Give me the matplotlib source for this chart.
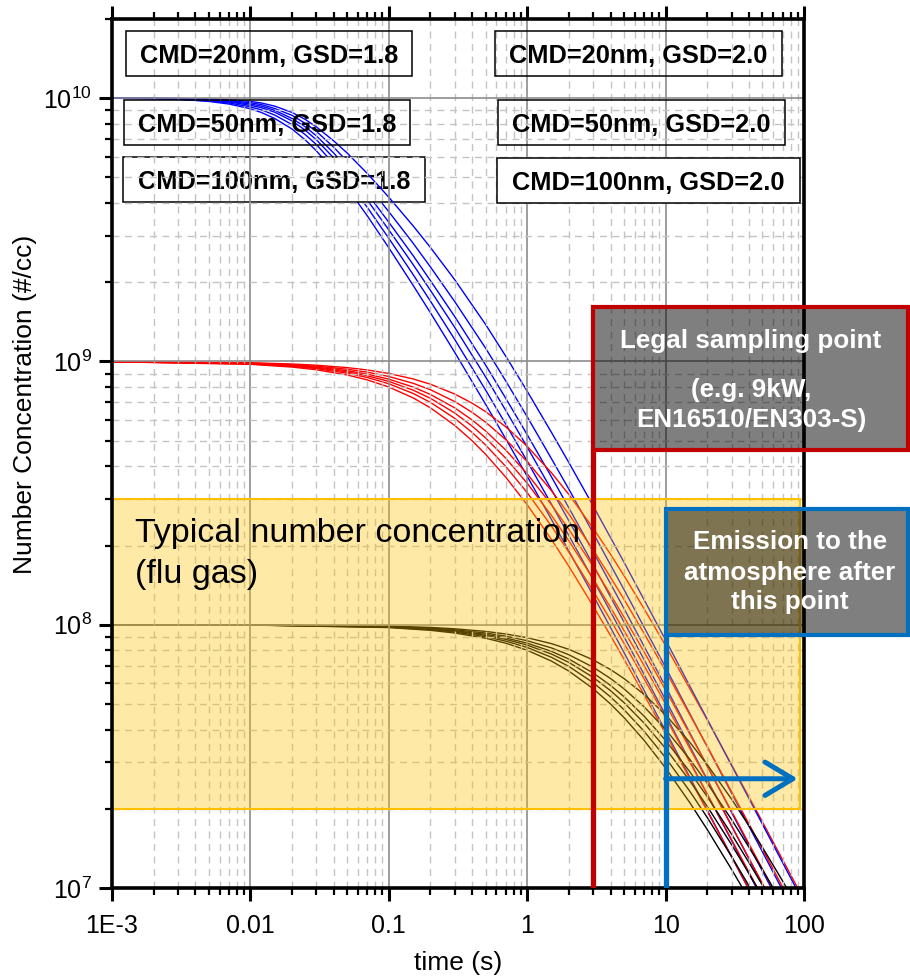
import numpy as np
import matplotlib
matplotlib.use('Agg')
import matplotlib.pyplot as plt
from matplotlib.patches import Rectangle
from matplotlib.ticker import LogLocator, NullFormatter

# ---- data ----
# 1e10 start (blue), given as log10 of the concentration
t_blue = [0.001, 0.002, 0.003, 0.005, 0.007, 0.01, 0.012, 0.015, 0.02, 0.025, 0.03, 0.04, 0.05, 0.07,
          0.1, 0.15, 0.2, 0.3, 0.5, 0.7, 1, 1.5, 2, 3, 5, 10, 20, 50, 100]
blue_log10_n = [
    [10.000, 9.998, 9.996, 9.988, 9.978, 9.960, 9.946, 9.923, 9.883, 9.841, 9.800, 9.725, 9.660, 9.553,
     9.432, 9.289, 9.185, 9.034, 8.838, 8.706, 8.564, 8.399, 8.280, 8.111, 7.895, 7.596, 7.295, 6.897, 6.596],
    [10.000, 9.999, 9.996, 9.990, 9.982, 9.967, 9.956, 9.936, 9.900, 9.861, 9.824, 9.751, 9.688, 9.585,
     9.468, 9.330, 9.229, 9.083, 8.892, 8.762, 8.621, 8.457, 8.339, 8.171, 7.955, 7.657, 7.356, 6.958, 6.657],
    [10.000, 9.999, 9.997, 9.993, 9.986, 9.973, 9.964, 9.947, 9.914, 9.878, 9.842, 9.773, 9.712, 9.613,
     9.500, 9.368, 9.270, 9.129, 8.942, 8.814, 8.675, 8.512, 8.395, 8.227, 8.011, 7.714, 7.412, 7.014, 6.713],
    [10.000, 10.000, 9.998, 9.994, 9.988, 9.978, 9.970, 9.954, 9.923, 9.891, 9.857, 9.792, 9.733, 9.638,
     9.529, 9.402, 9.307, 9.170, 8.987, 8.860, 8.722, 8.561, 8.444, 8.277, 8.062, 7.765, 7.463, 7.065, 6.764],
    [10.000, 10.000, 9.999, 9.996, 9.991, 9.983, 9.976, 9.961, 9.935, 9.904, 9.874, 9.814, 9.760, 9.671,
     9.569, 9.449, 9.359, 9.227, 9.051, 8.926, 8.790, 8.630, 8.515, 8.348, 8.134, 7.838, 7.536, 7.138, 6.837],
    [10.000, 10.000, 9.999, 9.997, 9.994, 9.988, 9.982, 9.970, 9.946, 9.919, 9.891, 9.838, 9.792, 9.714,
     9.624, 9.515, 9.433, 9.310, 9.141, 9.020, 8.887, 8.730, 8.616, 8.451, 8.238, 7.942, 7.641, 7.243, 6.942],
]

# 1e9 start (red)
t_red = [0.001, 0.01, 0.02, 0.03, 0.05, 0.07, 0.1, 0.15, 0.2, 0.3, 0.4, 0.5, 0.7, 1, 1.5, 2, 3, 4, 5, 7,
         10, 20, 50, 100]
n_red = [
    [9.975e8, 9.756e8, 9.524e8, 9.302e8, 8.889e8, 8.511e8, 8.000e8, 7.273e8, 6.667e8, 5.714e8, 5.000e8, 4.444e8,
     3.636e8, 2.857e8, 2.105e8, 1.667e8, 1.176e8, 9.09e7, 7.41e7, 5.41e7, 3.85e7, 1.96e7, 7.94e6, 3.98e6],
    [9.979e8, 9.790e8, 9.588e8, 9.394e8, 9.029e8, 8.692e8, 8.230e8, 7.561e8, 6.993e8, 6.079e8, 5.376e8, 4.819e8,
     3.992e8, 3.175e8, 2.367e8, 1.887e8, 1.342e8, 1.042e8, 8.51e7, 6.23e7, 4.44e7, 2.27e7, 9.22e6, 4.63e6],
    [9.981e8, 9.814e8, 9.634e8, 9.461e8, 9.132e8, 8.826e8, 8.403e8, 7.782e8, 7.246e8, 6.369e8, 5.682e8, 5.128e8,
     4.292e8, 3.448e8, 2.597e8, 2.083e8, 1.493e8, 1.163e8, 9.52e7, 6.99e7, 5.00e7, 2.56e7, 1.042e7, 5.24e6],
    [9.983e8, 9.836e8, 9.677e8, 9.523e8, 9.229e8, 8.953e8, 8.569e8, 7.996e8, 7.496e8, 6.662e8, 5.995e8, 5.450e8,
     4.610e8, 3.745e8, 2.853e8, 2.304e8, 1.664e8, 1.302e8, 1.070e8, 7.88e7, 5.65e7, 2.91e7, 1.183e7, 5.95e6],
    [9.986e8, 9.862e8, 9.728e8, 9.597e8, 9.346e8, 9.107e8, 8.772e8, 8.264e8, 7.813e8, 7.042e8, 6.410e8, 5.882e8,
     5.051e8, 4.167e8, 3.226e8, 2.632e8, 1.923e8, 1.515e8, 1.250e8, 9.26e7, 6.67e7, 3.45e7, 1.408e7, 7.09e6],
    [9.989e8, 9.891e8, 9.785e8, 9.681e8, 9.479e8, 9.285e8, 9.009e8, 8.584e8, 8.197e8, 7.519e8, 6.944e8, 6.452e8,
     5.650e8, 4.762e8, 3.774e8, 3.125e8, 2.326e8, 1.852e8, 1.538e8, 1.149e8, 8.33e7, 4.35e7, 1.786e7, 9.01e6],
]

# 1e8 start (black)
t_black = [0.001, 0.01, 0.1, 0.2, 0.3, 0.5, 0.7, 1, 1.5, 2, 3, 4, 5, 7, 10, 15, 20, 30, 40, 50, 70, 100]
n_black = [
    [1.0e8, 9.975e7, 9.756e7, 9.524e7, 9.302e7, 8.889e7, 8.511e7, 8.000e7, 7.273e7, 6.667e7, 5.714e7,
     5.000e7, 4.444e7, 3.636e7, 2.857e7, 2.105e7, 1.667e7, 1.176e7, 9.09e6, 7.41e6, 5.41e6, 3.85e6],
    [1.0e8, 9.978e7, 9.785e7, 9.579e7, 9.381e7, 9.009e7, 8.666e7, 8.197e7, 7.519e7, 6.944e7, 6.024e7,
     5.319e7, 4.762e7, 3.937e7, 3.125e7, 2.326e7, 1.852e7, 1.316e7, 1.020e7, 8.33e6, 6.10e6, 4.35e6],
    [1.0e8, 9.981e7, 9.809e7, 9.625e7, 9.447e7, 9.112e7, 8.799e7, 8.368e7, 7.737e7, 7.194e7, 6.309e7,
     5.618e7, 5.063e7, 4.228e7, 3.390e7, 2.548e7, 2.041e7, 1.460e7, 1.136e7, 9.30e6, 6.83e6, 4.88e6],
    [1.0e8, 9.983e7, 9.828e7, 9.662e7, 9.501e7, 9.195e7, 8.909e7, 8.511e7, 7.921e7, 7.407e7, 6.557e7,
     5.882e7, 5.333e7, 4.494e7, 3.636e7, 2.759e7, 2.222e7, 1.600e7, 1.250e7, 1.026e7, 7.55e6, 5.41e6],
    [1.0e8, 9.985e7, 9.852e7, 9.709e7, 9.569e7, 9.302e7, 9.050e7, 8.696e7, 8.163e7, 7.692e7, 6.897e7,
     6.250e7, 5.714e7, 4.878e7, 4.000e7, 3.077e7, 2.500e7, 1.818e7, 1.429e7, 1.176e7, 8.70e6, 6.25e6],
    [1.0e8, 9.988e7, 9.881e7, 9.766e7, 9.653e7, 9.434e7, 9.225e7, 8.929e7, 8.475e7, 8.065e7, 7.353e7,
     6.757e7, 6.250e7, 5.435e7, 4.545e7, 3.571e7, 2.941e7, 2.174e7, 1.724e7, 1.429e7, 1.064e7, 7.69e6],
]

x_ticks = [1e-3, 1e-2, 1e-1, 1, 10, 100]
x_tick_labels = ['1E-3', '0.01', '0.1', '1', '10', '100']
y_ticks = [1e7, 1e8, 1e9, 1e10]

case_labels_left = ['CMD=20nm, GSD=1.8', 'CMD=50nm, GSD=1.8', 'CMD=100nm, GSD=1.8']
case_labels_right = ['CMD=20nm, GSD=2.0', 'CMD=50nm, GSD=2.0', 'CMD=100nm, GSD=2.0']

# flue gas band and the two marked points
band_low, band_high = 2e7, 3e8
legal_t = 3
emission_t = 10
arrow_n = 2.6e7

plt.rcParams['font.family'] = ['Liberation Sans', 'DejaVu Sans']
plt.rcParams['mathtext.default'] = 'regular'

W, H = 910, 976
fig = plt.figure(figsize=(W / 100, H / 100), dpi=100)
ax = fig.add_axes([112 / W, 1 - 888 / H, 692 / W, 869 / H])


def fx(px):
    return px / W


def fy(py):
    return 1 - py / H


# curves
for i, ln in enumerate(blue_log10_n):
    # the slowest blue curve runs over the CMD=100nm box, the others under it
    ax.plot(t_blue, 10 ** np.array(ln), color='#0000FF', lw=1.0, zorder=2.3 if i == 5 else 2)
for n in n_red:
    ax.plot(t_red, n, color='#FF0000', lw=1.0, zorder=2)
for n in n_black:
    ax.plot(t_black, n, color='#000000', lw=1.0, zorder=2)

ax.set_xscale('log')
ax.set_yscale('log')
ax.set_xlim(1e-3, 100)
ax.set_ylim(1e7, 2e10)
ax.set_xticks(x_ticks, labels=x_tick_labels)
ax.set_yticks(y_ticks)
ax.xaxis.set_minor_locator(LogLocator(base=10, subs=np.arange(2, 10)))
ax.yaxis.set_minor_locator(LogLocator(base=10, subs=np.arange(2, 10)))
ax.xaxis.set_minor_formatter(NullFormatter())
ax.yaxis.set_minor_formatter(NullFormatter())

# grid sits over the data, under the yellow band
ax.set_axisbelow(False)
ax.grid(True, which='major', color='#8C8C8C', lw=1.2, ls='-')
ax.grid(True, which='minor', color='#C4C4C4', lw=1.0, ls=(0, (5, 4)))

for sp in ax.spines.values():
    sp.set_linewidth(2.6)
    sp.set_zorder(3.5)
ax.tick_params(which='both', direction='out', top=True, right=False, labelsize=18)
ax.tick_params(axis='x', pad=9)
ax.tick_params(axis='y', pad=5)
ax.tick_params(which='major', length=9.5, width=2.2)
ax.tick_params(which='minor', length=5, width=1.6)

ax.set_xlabel('time (s)', fontsize=19)
ax.set_ylabel('Number Concentration (#/cc)', fontsize=19)
ax.xaxis.set_label_coords(0.5, -0.073)
ax.yaxis.set_label_coords(-0.108, 0.557)

# yellow band
ax.add_patch(Rectangle((1e-3, band_low), 93.5 - 1e-3, band_high - band_low,
                       facecolor=(1, 0.753, 0, 0.35), edgecolor='#FFC000',
                       lw=1.5, zorder=3))

# legal sampling point
ax.plot([legal_t, legal_t], [1e7, 4.6e8], color='#C00000', lw=3.8,
        solid_capstyle='butt', zorder=4)
ax.add_patch(Rectangle((legal_t, 4.6e8), 564 - legal_t, 1.61e9 - 4.6e8,
                       facecolor=(0, 0, 0, 0.5), edgecolor='#C00000', lw=3,
                       clip_on=False, zorder=5))

# emission point + arrow
ax.plot([emission_t, emission_t], [1e7, 9.14e7], color='#0070C0', lw=3.8,
        solid_capstyle='butt', zorder=4)
ax.add_patch(Rectangle((emission_t, 9.14e7), 564 - emission_t, 2.75e8 - 9.14e7,
                       facecolor=(0, 0, 0, 0.5), edgecolor='#0070C0', lw=3,
                       clip_on=False, zorder=5))
ax.annotate('', xy=(90, arrow_n), xytext=(emission_t, arrow_n),
            arrowprops=dict(arrowstyle='->,head_length=1.0,head_width=0.6',
                            lw=3.6, color='#0070C0', shrinkA=0, shrinkB=0,
                            mutation_scale=20),
            zorder=4)

# texts
fig.text(fx(135), fy(542), 'Typical number concentration', fontsize=24.5, va='baseline')
fig.text(fx(135), fy(583), '(flu gas)', fontsize=24.5, va='baseline')

wb = dict(color='white', fontsize=18.7, fontweight='bold', ha='center', va='baseline')
fig.text(fx(751), fy(348), 'Legal sampling point', **wb)
fig.text(fx(751), fy(397), '(e.g. 9kW,', **wb)
fig.text(fx(751), fy(427), 'EN16510/EN303-S)', **wb)
fig.text(fx(790), fy(549), 'Emission to the', **wb)
fig.text(fx(790), fy(580), 'atmosphere after', **wb)
fig.text(fx(790), fy(609), 'this point', **wb)

# CMD / GSD case boxes, pixel boxes (x0, y0, x1, y1)
boxes_left = [(126, 31, 412, 76), (124, 100, 410, 145), (123, 157, 425, 202)]
boxes_right = [(495, 31, 782, 76), (498, 100, 785, 145), (497, 158, 800, 203)]
for col, (labels, boxes) in enumerate(((case_labels_left, boxes_left), (case_labels_right, boxes_right))):
    for i, (lab, (x0, y0, x1, y1)) in enumerate(zip(labels, boxes)):
        filled = i == 2
        z = 2.2 if (col == 0 and i == 2) else 2.6
        ax.add_patch(Rectangle((fx(x0), fy(y1)), (x1 - x0) / W, (y1 - y0) / H,
                               transform=fig.transFigure, fill=filled,
                               facecolor='white', edgecolor='black', lw=1.1,
                               clip_on=False, zorder=z))
        ax.text(fx((x0 + x1) / 2), fy(y0 + 32), lab, transform=fig.transFigure,
                fontsize=18.3, fontweight='bold', ha='center', va='baseline',
                clip_on=False, zorder=z + 0.05)

fig.savefig('out.png', dpi=100)
